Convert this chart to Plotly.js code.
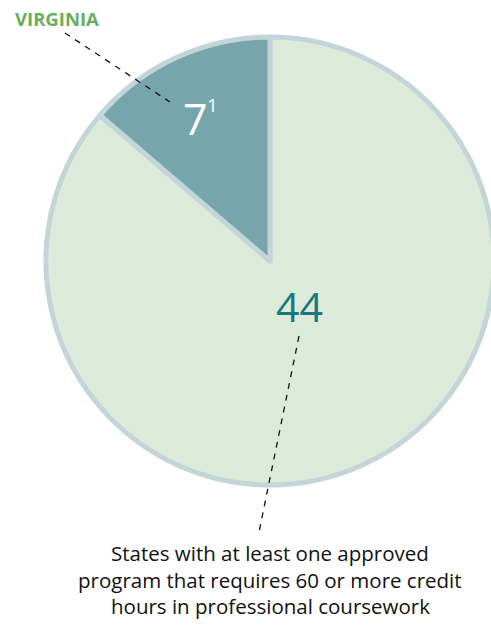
<!DOCTYPE html>
<html>
<head>
<meta charset="utf-8">
<script src="https://cdn.plot.ly/plotly-3.0.1.min.js"></script>
<style>
html,body{margin:0;padding:0;overflow:hidden;background:#fff;width:491px;height:626px;}
#chart{width:520px;height:626px;}
</style>
</head>
<body>
<div id="chart"></div>
<script>
// Data
const categories = ["States with at least one approved program that requires 60 or more credit hours in professional coursework", "Virginia"];
const values = [44, 7];
const sliceColors = ["#dceada", "#77a5ac"];
const calloutLabel = "VIRGINIA";
const bottomLines = ["States with at least one approved", "program that requires 60 or more credit", "hours in professional coursework"];

const W = 520, H = 626;
const px = x => x / W;
const py = y => 1 - y / H;

const trace = {
  type: "pie",
  labels: categories,
  values: values,
  sort: false,
  direction: "counterclockwise",
  rotation: 0,
  textinfo: "none",
  hoverinfo: "label+value",
  marker: {colors: sliceColors, line: {color: "#c4d5da", width: 5}},
  domain: {x: [px(46), px(494)], y: [py(485), py(37)]},
  showlegend: false
};

const font = "'Open Sans', 'Noto Sans', sans-serif";
const annotations = [
  {text: String(values[1]), x: px(195), y: py(118), xref: "paper", yref: "paper", showarrow: false,
   font: {family: font, size: 43, color: "#ffffff"}, xanchor: "center", yanchor: "middle"},
  {text: "1", x: px(212), y: py(105), xref: "paper", yref: "paper", showarrow: false,
   font: {family: font, size: 19, color: "#ffffff"}, xanchor: "center", yanchor: "middle"},
  {text: String(values[0]), x: px(299), y: py(306), xref: "paper", yref: "paper", showarrow: false,
   font: {family: font, size: 41, color: "#17787d"}, xanchor: "center", yanchor: "middle"},
  {text: "<b>" + calloutLabel + "</b>", x: px(13), y: py(18.5), xref: "paper", yref: "paper", showarrow: false,
   font: {family: font, size: 18.5, color: "#6aae5b"}, xanchor: "left", yanchor: "middle"}
];
const lineY = [553, 580, 606];
bottomLines.forEach((t, i) => {
  annotations.push({text: t, x: px(270), y: py(lineY[i]), xref: "paper", yref: "paper", showarrow: false,
    font: {family: font, size: 20.5, color: "#111111"}, xanchor: "center", yanchor: "middle"});
});

const shapes = [
  {type: "line", xref: "paper", yref: "paper", x0: px(65), y0: py(33), x1: px(170), y1: py(102),
   line: {color: "#111", width: 1.3, dash: "6px,6px"}},
  {type: "line", xref: "paper", yref: "paper", x0: px(299), y0: py(336), x1: px(259), y1: py(532),
   line: {color: "#111", width: 1.3, dash: "6px,6px"}}
];

Plotly.newPlot("chart", [trace], {
  width: W, height: H,
  margin: {l: 0, r: 0, t: 0, b: 0},
  paper_bgcolor: "#ffffff",
  annotations: annotations,
  shapes: shapes
}, {displayModeBar: false, staticPlot: true});
</script>
</body>
</html>
